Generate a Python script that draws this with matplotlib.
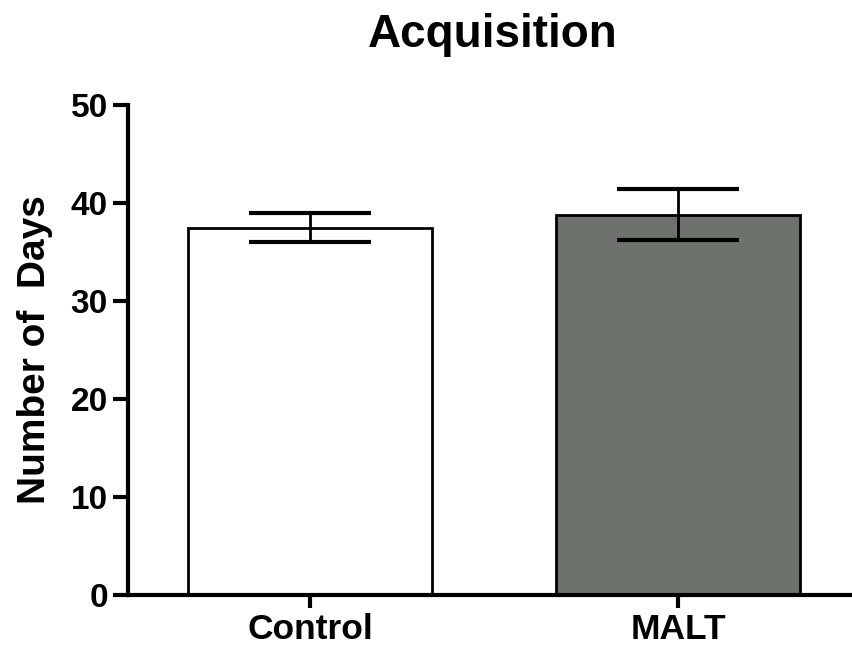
import matplotlib.pyplot as plt

plt.rcParams['font.family'] = ['Liberation Sans', 'DejaVu Sans']
plt.rcParams['font.weight'] = 'bold'

groups = ["Control", "MALT"]
means = [37.5, 38.8]
errors = [1.5, 2.6]
colors = ["white", "#6d716b"]

fig = plt.figure(figsize=(8.52, 6.48), dpi=100)
ax = fig.add_axes([128 / 852, 1 - 595 / 648, (852 - 128) / 852, (595 - 105) / 648])

x = list(range(len(groups)))
ax.bar(x, means, width=0.663, color=colors, edgecolor="black", linewidth=2, zorder=2)
ax.errorbar(x, means, yerr=errors, fmt="none", ecolor="black", elinewidth=2,
            capsize=44, capthick=3, zorder=3)

ax.set_xlim(-0.495, 1.473)
ax.set_ylim(0, 50)
ax.set_yticks([0, 10, 20, 30, 40, 50])
ax.set_xticks(x)
ax.set_xticklabels(groups)

ax.spines["top"].set_visible(False)
ax.spines["right"].set_visible(False)
ax.spines["left"].set_linewidth(3)
ax.spines["bottom"].set_linewidth(3)
ax.tick_params(axis="y", width=3, length=10.5, labelsize=24, pad=4)
ax.tick_params(axis="x", width=3, length=9, labelsize=25.5, pad=4)
for lbl in ax.get_xticklabels() + ax.get_yticklabels():
    lbl.set_fontweight("bold")

ax.set_ylabel("Number of  Days", fontsize=28, fontweight="bold", labelpad=13)
fig.text(493 / 852, 1 - 47 / 648, "Acquisition", ha="center", va="baseline",
         fontsize=33, fontweight="bold")

fig.savefig("out.png", dpi=100)
